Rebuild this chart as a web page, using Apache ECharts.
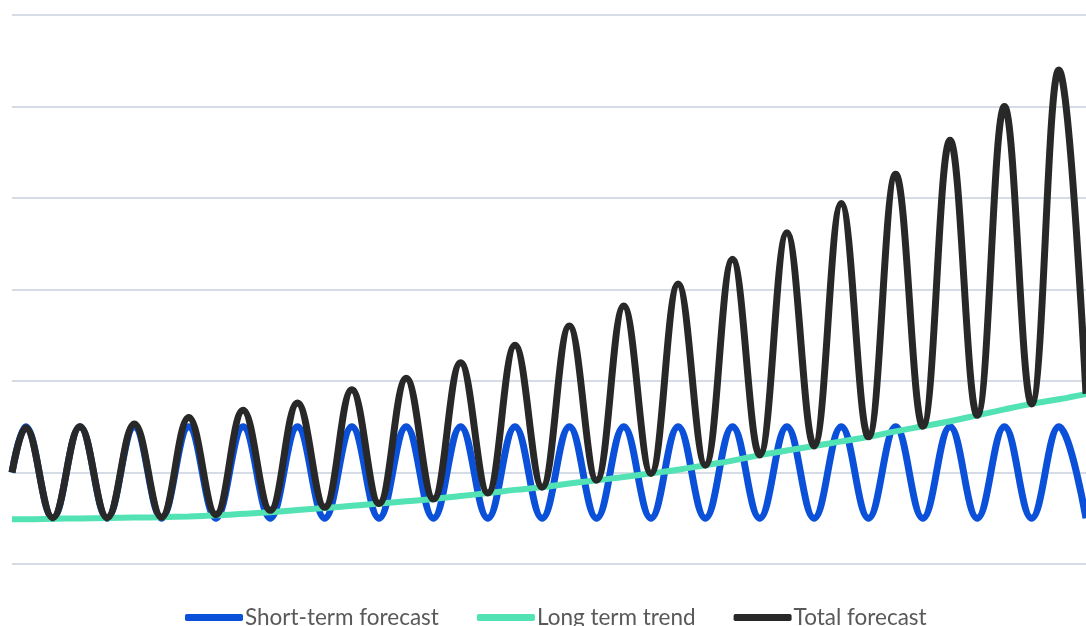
<!DOCTYPE html>
<html>
<head>
<meta charset="utf-8">
<script src="https://cdn.jsdelivr.net/npm/echarts@6/dist/echarts.min.js"></script>
<style>
html,body{margin:0;padding:0;background:#fff;}
#chart{width:1086px;height:626px;}
</style>
</head>
<body>
<div id="chart"></div>
<script>
// x positions in quarter-periods (start, then alternating peaks / troughs)
const xQuarter = [0,1,3,5,7,9,11,13,15,17,19,21,23,25,27,29,31,33,35,37,39,41,43,45,47,49,51,53,55,57,59,61,63,65,67,69,71,73,75,77,79];

const seriesNames = ['Short-term forecast', 'Long term trend', 'Total forecast'];

const shortTerm = [1.0,
  1.5,0.5, 1.5,0.5, 1.5,0.5, 1.5,0.5, 1.5,0.5,
  1.5,0.5, 1.5,0.5, 1.5,0.5, 1.5,0.5, 1.5,0.5,
  1.5,0.5, 1.5,0.5, 1.5,0.5, 1.5,0.5, 1.5,0.5,
  1.5,0.5, 1.5,0.5, 1.5,0.5, 1.5,0.5, 1.5,0.5];

const longTrend = [0.49,
  0.49,0.494, 0.498,0.502, 0.507,0.512, 0.52,0.532, 0.548,0.566,
  0.59,0.612, 0.636,0.66, 0.685,0.71, 0.742,0.775, 0.81,0.84,
  0.88,0.915, 0.95,0.99, 1.03,1.08, 1.13,1.19, 1.24,1.29,
  1.34,1.39, 1.45,1.505, 1.56,1.625, 1.69,1.75, 1.80,1.86];

const totalForecast = [1.0,
  1.49,0.506, 1.50,0.506, 1.53,0.51, 1.60,0.54, 1.68,0.587,
  1.76,0.62, 1.905,0.66, 2.03,0.71, 2.20,0.776, 2.39,0.84,
  2.60,0.915, 2.82,0.99, 3.06,1.08, 3.33,1.19, 3.62,1.29,
  3.94,1.39, 4.26,1.505, 4.63,1.625, 5.00,1.75, 5.40,1.86];

const colors = ['#0a50d8', '#52e2b4', '#282828'];

function pairs(vals){ return xQuarter.map((x,i)=>[x, vals[i]]); }

const chart = echarts.init(document.getElementById('chart'), null, {renderer:'canvas'});
const smoothVal = 0.4;
chart.setOption({
  animation:false,
  backgroundColor:'#ffffff',
  grid:{left:12, right:0, top:15, bottom:62},
  xAxis:{type:'value', min:0, max:79, show:false, splitLine:{show:false}},
  yAxis:{type:'value', min:0, max:6, interval:1,
    axisLabel:{show:false}, axisLine:{show:false}, axisTick:{show:false},
    splitLine:{show:true, lineStyle:{color:'#d5dce6', width:2}}},
  legend:{
    left:180, top:601,
    itemWidth:58, itemHeight:7, itemGap:38,
    icon:'roundRect',
    textStyle:{color:'#595959', fontSize:22.5, fontFamily:'Lato, "Open Sans", sans-serif', padding:[0,0,0,-3]},
    data:seriesNames
  },
  series:[
    {name:seriesNames[0], type:'line', data:pairs(shortTerm), smooth:smoothVal, showSymbol:false,
     lineStyle:{color:colors[0], width:7}, itemStyle:{color:colors[0]}},
    {name:seriesNames[1], type:'line', data:pairs(longTrend), smooth:smoothVal, showSymbol:false,
     lineStyle:{color:colors[1], width:6}, itemStyle:{color:colors[1]}},
    {name:seriesNames[2], type:'line', data:pairs(totalForecast), smooth:smoothVal, showSymbol:false,
     lineStyle:{color:colors[2], width:7}, itemStyle:{color:colors[2]}}
  ]
});
</script>
</body>
</html>
